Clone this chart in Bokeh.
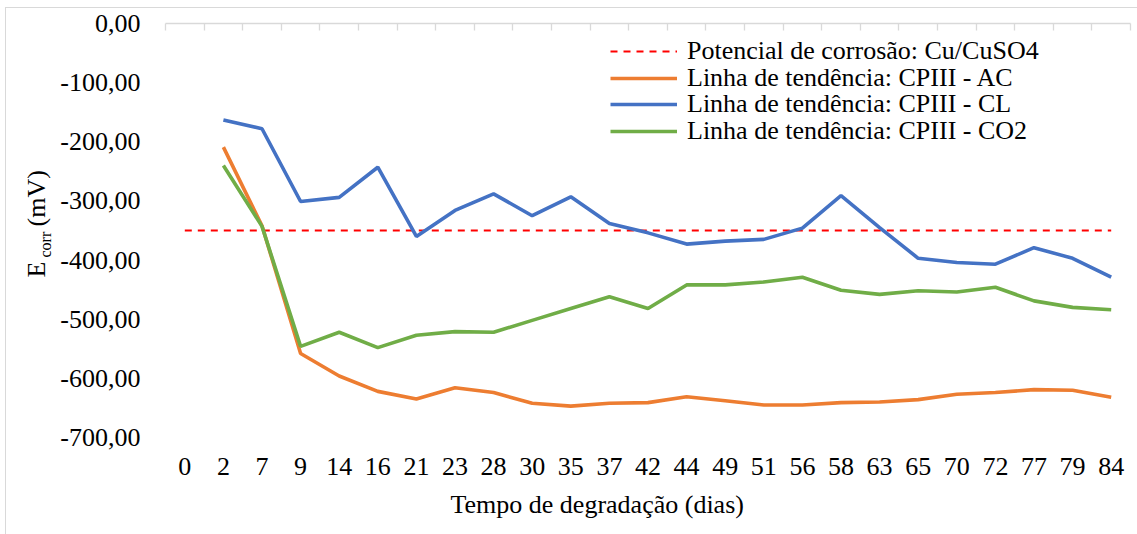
import math
from bokeh.plotting import figure
from bokeh.layouts import row
from bokeh.models import (Range1d, LinearAxis, FixedTicker, Label, Legend, LegendItem,
                          CustomJSTickFormatter, Title)
from bokeh.embed import file_html
from bokeh.resources import INLINE

# ---------------- data ----------------
days = ["0", "2", "7", "9", "14", "16", "21", "23", "28", "30", "35", "37", "42",
        "44", "49", "51", "56", "58", "63", "65", "70", "72", "77", "79", "84"]
ref_potential = -350.0
ac = [-209, -342, -558, -596, -622, -635, -616, -624, -642, -647, -642, -641,
      -631, -638, -645, -645, -641, -640, -636, -627, -624, -619, -620, -632]
cl = [-163, -178, -301, -294, -243, -360, -316, -288, -325, -293, -338, -354,
      -373, -368, -365, -346, -291, -345, -397, -404, -407, -379, -397, -429]
co2 = [-240, -343, -546, -522, -548, -527, -521, -522, -502, -482, -462, -482,
       -442, -442, -437, -429, -451, -458, -452, -454, -446, -469, -480, -484]
y_ticks = [0, -100, -200, -300, -400, -500, -600, -700]
legend_labels = ["Potencial de corrosão: Cu/CuSO4",
                 "Linha de tendência: CPIII - AC",
                 "Linha de tendência: CPIII - CL",
                 "Linha de tendência: CPIII - CO2"]
x_title = "Tempo de degradação (dias)"

# category positions (centre of each category slot)
n = len(days)
cat_pos = [i + 0.5 for i in range(n)]
series_pos = cat_pos[1:]          # series start at day 2

FONT = "Liberation Serif"
FS = "26px"
H = 526
LEFT_W = 50

p = figure(width=1131 - LEFT_W, height=H,
           x_range=Range1d(0, n), y_range=Range1d(-700, 0),
           output_backend="svg", toolbar_location=None,
           x_axis_location=None, y_axis_location=None,
           min_border_left=109, min_border_right=7,
           min_border_top=15, min_border_bottom=97)
p.outline_line_color = None
p.background_fill_color = "white"
p.border_fill_color = "white"
for g in p.grid:
    g.visible = False

# bottom category labels
xb = LinearAxis(ticker=FixedTicker(ticks=cat_pos),
                formatter=CustomJSTickFormatter(args=dict(days=days),
                                                code="return days[Math.floor(tick)];"),
                axis_line_color=None, major_tick_line_color=None,
                major_tick_in=0, major_tick_out=0,
                minor_tick_line_color=None, minor_tick_in=0, minor_tick_out=0,
                major_label_text_font=FONT, major_label_text_font_size=FS,
                major_label_text_color="black", major_label_standoff=20)
p.add_layout(xb, "below")
p.add_layout(Title(text=x_title, align="left", offset=285, vertical_align="top",
                   standoff=24, text_font=FONT, text_font_size=FS,
                   text_font_style="normal", text_color="black"), "below")

# top axis line at 0 with tick marks between categories
xt = LinearAxis(ticker=FixedTicker(ticks=list(range(n + 1))),
                formatter=CustomJSTickFormatter(code="return '';"),
                axis_line_color="#d9d9d9", axis_line_width=1.3,
                major_tick_line_color="#d9d9d9", major_tick_line_width=1.3,
                major_tick_in=7, major_tick_out=0,
                minor_tick_line_color=None, minor_tick_in=0, minor_tick_out=0,
                major_label_standoff=0, major_label_text_font=FONT,
                major_label_text_font_size="1px")
p.add_layout(xt, "above")

# left axis
yl = LinearAxis(ticker=FixedTicker(ticks=y_ticks),
                formatter=CustomJSTickFormatter(
                    code="return tick.toFixed(2).replace('.', ',');"),
                axis_line_color=None, major_tick_line_color=None,
                major_tick_in=0, major_tick_out=0,
                minor_tick_line_color=None, minor_tick_in=0, minor_tick_out=0,
                major_label_text_font=FONT, major_label_text_font_size=FS,
                major_label_text_color="black", major_label_standoff=25)
p.add_layout(yl, "left")

r_ref = p.line(cat_pos, [ref_potential] * n, line_color="#FF0000",
               line_width=2, line_dash="7 6")
r_ac = p.line(series_pos, ac, line_color="#ED7D31", line_width=3.6)
r_cl = p.line(series_pos, cl, line_color="#4472C4", line_width=3.6)
r_co2 = p.line(series_pos, co2, line_color="#70AD47", line_width=3.6)

# one legend per row so the row pitch matches the reference
row_bottoms = [371, 344.5, 318, 291.5]
for lab, r, vy in zip(legend_labels, [r_ref, r_ac, r_cl, r_co2], row_bottoms):
    lg = Legend(items=[LegendItem(label=lab, renderers=[r])],
                location=(445, vy), padding=0, margin=0, spacing=0,
                border_line_color=None, background_fill_alpha=0,
                glyph_width=67, glyph_height=20, label_standoff=10,
                label_text_font=FONT, label_text_font_size=FS,
                label_text_color="black")
    p.add_layout(lg)

# narrow side panel holding the rotated y-axis title (with subscript);
# its frame is aligned with the main plot frame (page y 23..437)
side = figure(width=LEFT_W, height=H, x_range=Range1d(0, LEFT_W),
              y_range=Range1d(0, H), output_backend="svg",
              toolbar_location=None, x_axis_location=None, y_axis_location=None,
              min_border=0, min_border_left=0, min_border_right=0,
              min_border_top=15, min_border_bottom=97)
side.outline_line_color = None
side.background_fill_color = "white"
side.border_fill_color = "white"
for g in side.grid:
    g.visible = False
common = dict(x_units="screen", y_units="screen", angle=math.pi / 2,
              text_font=FONT, text_color="black", text_baseline="bottom",
              text_align="left")
side.add_layout(Label(x=44.6, y=160, text="E", text_font_size=FS, **common))
side.add_layout(Label(x=47.5, y=180, text="corr", text_font_size="16px", **common))
side.add_layout(Label(x=44.6, y=211, text="(mV)", text_font_size=FS, **common))

layout = row(side, p, spacing=0)
layout.styles = {"border-left": "1px solid #d9d9d9", "border-top": "1px solid #d9d9d9",
                 "margin-left": "5px", "margin-top": "7px"}

open("out.html", "w").write(file_html(layout, INLINE))
